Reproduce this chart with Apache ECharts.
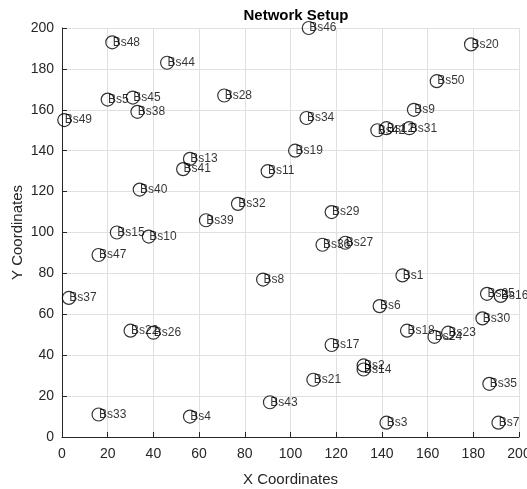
<!DOCTYPE html>
<html>
<head>
<meta charset="utf-8">
<script src="https://cdn.jsdelivr.net/npm/echarts@6/dist/echarts.min.js"></script>
<style>
html,body{margin:0;padding:0;background:#fff;}
#chart{width:527px;height:489px;}
</style>
</head>
<body>
<div id="chart"></div>
<script>
const names = ["Bs1","Bs2","Bs3","Bs4","Bs5","Bs6","Bs7","Bs8","Bs9","Bs10",
  "Bs11","Bs12","Bs13","Bs14","Bs15","Bs16","Bs17","Bs18","Bs19","Bs20",
  "Bs21","Bs22","Bs23","Bs24","Bs25","Bs26","Bs27","Bs28","Bs29","Bs30",
  "Bs31","Bs32","Bs33","Bs34","Bs35","Bs36","Bs37","Bs38","Bs39","Bs40",
  "Bs41","Bs42","Bs43","Bs44","Bs45","Bs46","Bs47","Bs48","Bs49","Bs50"];
const xs = [149,132,142,56,20,139,191,88,154,38,
  90,142,56,132,24,192,118,151,102,179,
  110,30,169,163,186,40,124,71,118,184,
  152,77,16,107,187,114,3,33,63,34,
  53,138,91,46,31,108,16,22,1,164];
const ys = [79,35,7,10,165,64,7,77,160,98,
  130,151,136,33,100,69,45,52,140,192,
  28,52,51,49,70,51,95,167,110,58,
  151,114,11,156,26,94,68,159,106,121,
  131,150,17,183,166,200,89,193,155,174];
const xTicks = [0,20,40,60,80,100,120,140,160,180,200];
const yTicks = [0,20,40,60,80,100,120,140,160,180,200];

const points = names.map((n,i)=>({name:n, value:[xs[i], ys[i]]}));
const FONT = "'Liberation Sans', Arial, sans-serif";
const chart = echarts.init(document.getElementById('chart'), null, {renderer:'canvas'});
const axisCommon = {
  axisLine:{show:true, onZero:false, lineStyle:{color:'#262626', width:1}},
  axisTick:{show:true, inside:true, length:5, lineStyle:{color:'#262626'}},
  splitLine:{show:true, lineStyle:{color:'#e0e0e0', width:1}},
  nameTextStyle:{fontFamily:FONT, fontSize:15, color:'#262626'},
  nameMoveOverlap:false
};
chart.setOption({
  animation:false,
  backgroundColor:'#ffffff',
  title:{text:'Network Setup', left:291, textAlign:'center', top:3,
    textStyle:{fontFamily:FONT, fontSize:15, fontWeight:'bold', color:'#000'}},
  grid:{left:62, right:8, top:28, bottom:52, containLabel:false, outerBoundsMode:'none'},
  xAxis:Object.assign({}, axisCommon, {
    type:'value', min:xTicks[0], max:xTicks[xTicks.length-1], interval:xTicks[1]-xTicks[0],
    name:'X Coordinates', nameLocation:'middle', nameGap:35,
    axisLabel:{fontFamily:FONT, fontSize:14, color:'#262626', margin:10}
  }),
  yAxis:Object.assign({}, axisCommon, {
    type:'value', min:yTicks[0], max:yTicks[yTicks.length-1], interval:yTicks[1]-yTicks[0],
    name:'Y Coordinates', nameLocation:'middle', nameGap:37,
    axisLabel:{fontFamily:FONT, fontSize:14, color:'#262626', margin:8}
  }),
  series:[{
    type:'scatter',
    data:points,
    symbol:'circle',
    symbolSize:13,
    itemStyle:{color:'rgba(0,0,0,0)', borderColor:'#000', borderWidth:1.2},
    label:{show:true, formatter:p=>p.name, position:[7.5,'50%'], align:'left', verticalAlign:'middle',
      fontFamily:FONT, fontSize:12, color:'#000'},
    labelLayout:{hideOverlap:false},
    clip:false
  }]
});
</script>
</body>
</html>
